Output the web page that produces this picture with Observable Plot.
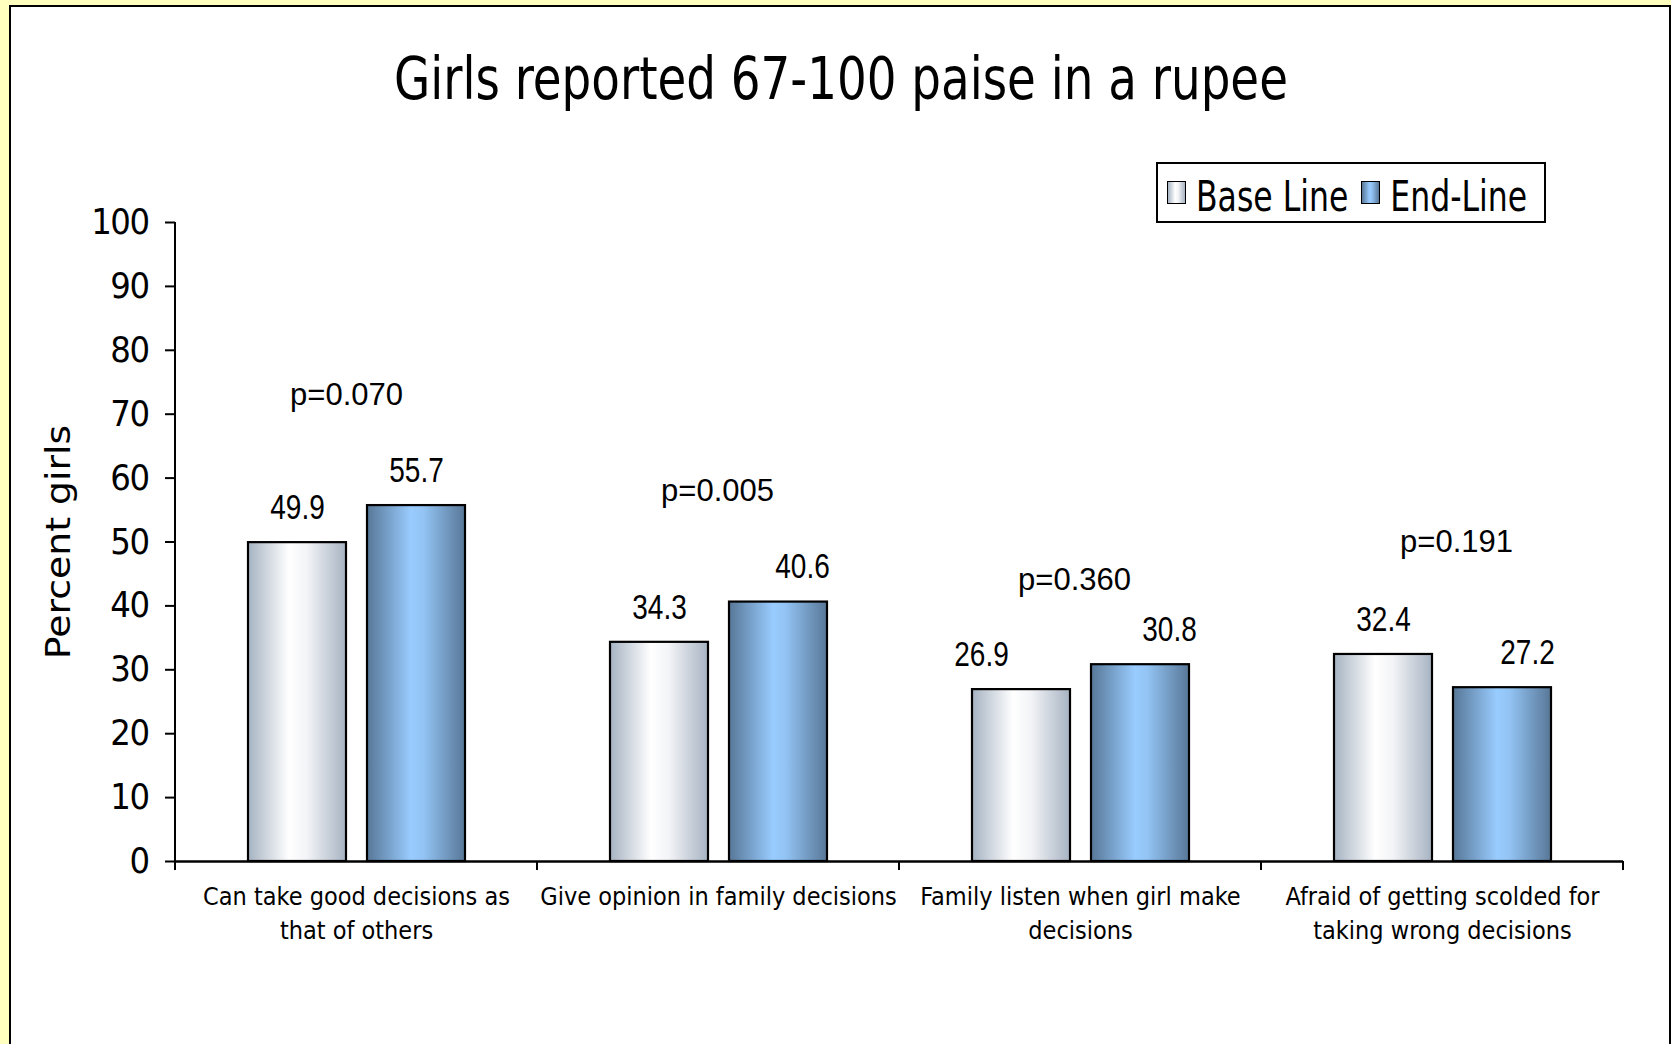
<!DOCTYPE html>
<html>
<head>
<meta charset="utf-8">
<script src="https://cdn.jsdelivr.net/npm/d3@7"></script>
<script src="https://cdn.jsdelivr.net/npm/@observablehq/plot@0.6"></script>
<style>
  html, body { margin: 0; padding: 0; }
  body { background: #FFFFBE; width: 1671px; height: 1044px; overflow: hidden; position: relative;
         font-family: "DejaVu Sans Condensed", "DejaVu Sans", sans-serif; color: #000; }
  #panel { position: absolute; left: 9px; top: 5px; width: 1662px; height: 1100px; background: #fff;
           border: 2px solid #000; box-sizing: border-box; }
  #title { position: absolute; left: 0; top: 55px; width: 1682px; text-align: center;
           font-size: 52px; line-height: 52px; white-space: nowrap;
           transform-origin: 50% 44px; transform: scaleY(1.14); }
  #ylabel { position: absolute; left: 57.6px; top: 541.5px; font-family: "DejaVu Sans", sans-serif;
            font-size: 33px; line-height: 33px; white-space: nowrap;
            transform: translate(-50%, -50%) rotate(-90deg) scaleX(1.145); }
  #legend { position: absolute; left: 1156px; top: 162px; width: 390px; height: 61px; background: #fff;
            border: 2px solid #000; box-sizing: border-box; display: flex; align-items: center; padding-left: 9px; }
  .sw { width: 19px; height: 23px; min-width: 19px; box-sizing: border-box; border: 1.6px solid #000; flex: none; }
  .lt { font-size: 35px; line-height: 35px; white-space: nowrap; display: inline-block;
        transform: scaleY(1.215); margin-top: 10px; margin-left: 10px; margin-right: 13px; }
  #chart { position: absolute; left: 0; top: 150px; }
  #chart g[aria-label="y-axis tick label"] text { letter-spacing: -1.5px; }
</style>
</head>
<body>
<div id="panel"></div>
<svg width="0" height="0" style="position:absolute">
  <defs>
    <linearGradient id="gradBase" x1="0" x2="1" y1="0" y2="0">
      <stop offset="0" stop-color="#a6b3c2"/>
      <stop offset="0.42" stop-color="#ffffff"/>
      <stop offset="0.6" stop-color="#f3f4f7"/>
      <stop offset="1" stop-color="#a7b3c2"/>
    </linearGradient>
    <linearGradient id="gradEnd" x1="0" x2="1" y1="0" y2="0">
      <stop offset="0" stop-color="#577797"/>
      <stop offset="0.45" stop-color="#99ccff"/>
      <stop offset="0.58" stop-color="#92c3f3"/>
      <stop offset="1" stop-color="#587797"/>
    </linearGradient>
  </defs>
</svg>
<div id="title">Girls reported 67-100 paise in a rupee</div>
<div id="ylabel">Percent girls</div>
<div id="legend"></div>
<div id="chart"></div>
<script>
// ---- data ----
const categories = [
  "Can take good decisions as\nthat of others",
  "Give opinion in family decisions",
  "Family listen when girl make\ndecisions",
  "Afraid of getting scolded for\ntaking wrong decisions"
];
const seriesNames = ["Base Line", "End-Line"];
const baseLine = [49.9, 34.3, 26.9, 32.4];
const endLine = [55.7, 40.6, 30.8, 27.2];
const pLabels = ["p=0.070", "p=0.005", "p=0.360", "p=0.191"];
const pLabelLevel = [73, 58, 44, 50];
const yTicks = [0, 10, 20, 30, 40, 50, 60, 70, 80, 90, 100];

// ---- tables ----
const rows = categories.flatMap((c, i) => [
  {cat: c, series: seriesNames[0], value: baseLine[i]},
  {cat: c, series: seriesNames[1], value: endLine[i]}
]);
const pRows = categories.map((c, i) => ({cat: c, label: pLabels[i], level: pLabelLevel[i]}));
const fills = ["url(#gradBase)", "url(#gradEnd)"];
const fmt = d => d.toFixed(1);

const chart = Plot.plot({
  width: 1671,
  height: 894,
  marginLeft: 174,
  marginRight: 47,
  marginTop: 72,
  marginBottom: 183,
  style: {background: "transparent", overflow: "visible", color: "#000"},
  fx: {domain: categories, padding: 0, label: null, axis: null},
  x: {domain: seriesNames, paddingInner: 0.18, paddingOuter: 0.607, axis: null},
  y: {domain: [0, 100], axis: null},
  color: {domain: seriesNames, range: fills},
  marks: [
    Plot.barY(rows, {fx: "cat", x: "series", y: "value", fill: "series", stroke: "#000", strokeWidth: 2.2}),
    Plot.ruleY([0], {stroke: "#000", strokeWidth: 2.5}),
    Plot.text(rows, {fx: "cat", x: "series", y: "value", text: d => fmt(d.value),
      dy: -35, lineAnchor: "middle", fontSize: 35, fontFamily: "'Liberation Sans', Arial, sans-serif", fill: "#000"}),
    Plot.text(pRows, {fx: "cat", y: "level", text: "label", lineAnchor: "middle",
      fontSize: 31, fontFamily: "'Liberation Sans', Arial, sans-serif", fill: "#000"}),
    Plot.axisY({ticks: yTicks, tickFormat: d => String(d), tickSize: 10, tickPadding: 17, strokeWidth: 2,
      fontSize: 36, fontFamily: "'DejaVu Sans Condensed', 'DejaVu Sans', sans-serif", label: null, fill: "#000"}),
    Plot.axisFx({anchor: "bottom", tickSize: 0, tickPadding: 19, lineHeight: 1.38, label: null,
      fontSize: 25, fontFamily: "'DejaVu Sans Condensed', 'DejaVu Sans', sans-serif", fill: "#000"})
  ]
});
document.getElementById("chart").appendChild(chart);

// label layout nudges (pixels), as hand-placed in the original slide
const valueNudge = [0, 0, 0, 24, -40, 29, 0, 25];
const pNudge = [-10, -1, -6, 14];

// narrow the value labels (the reference uses a narrow face) and nudge them
const valueStrings = new Set(rows.map(d => fmt(d.value)));
d3.select(chart).selectAll("text")
  .filter(function () { return valueStrings.has(this.textContent); })
  .each(function (_, i) {
    const len = this.getComputedTextLength();
    this.setAttribute("textLength", (len * 0.8).toFixed(1));
    this.setAttribute("lengthAdjust", "spacingAndGlyphs");
    if (valueNudge[i]) this.setAttribute("dx", valueNudge[i]);
  });
const pStrings = new Set(pLabels);
d3.select(chart).selectAll("text")
  .filter(function () { return pStrings.has(this.textContent); })
  .each(function (_, i) { if (pNudge[i]) this.setAttribute("dx", pNudge[i]); });

// axis line and category boundary ticks, through the plot's own scales
const fxS = chart.scale("fx"), yS = chart.scale("y");
const svg = d3.select(chart);
const g = svg.append("g").attr("stroke", "#000").attr("stroke-width", 2);
const left = fxS.apply(categories[0]);
g.append("line").attr("x1", left).attr("x2", left).attr("y1", yS.apply(100)).attr("y2", yS.apply(0));
const bounds = categories.map(c => fxS.apply(c)).concat([fxS.apply(categories[categories.length - 1]) + fxS.bandwidth]);
g.selectAll("line.b").data(bounds).join("line").attr("class", "b")
  .attr("x1", d => d).attr("x2", d => d).attr("y1", yS.apply(0)).attr("y2", yS.apply(0) + 9);

// legend
const legend = d3.select("#legend");
seriesNames.forEach((s, i) => {
  legend.append("div").attr("class", "sw").style("background", i === 0
    ? "linear-gradient(to right, #a6b3c2, #ffffff 42%, #f3f4f7 60%, #a7b3c2)"
    : "linear-gradient(to right, #577797, #99ccff 45%, #92c3f3 58%, #587797)");
  legend.append("span").attr("class", "lt").text(s);
});
</script>
</body>
</html>
